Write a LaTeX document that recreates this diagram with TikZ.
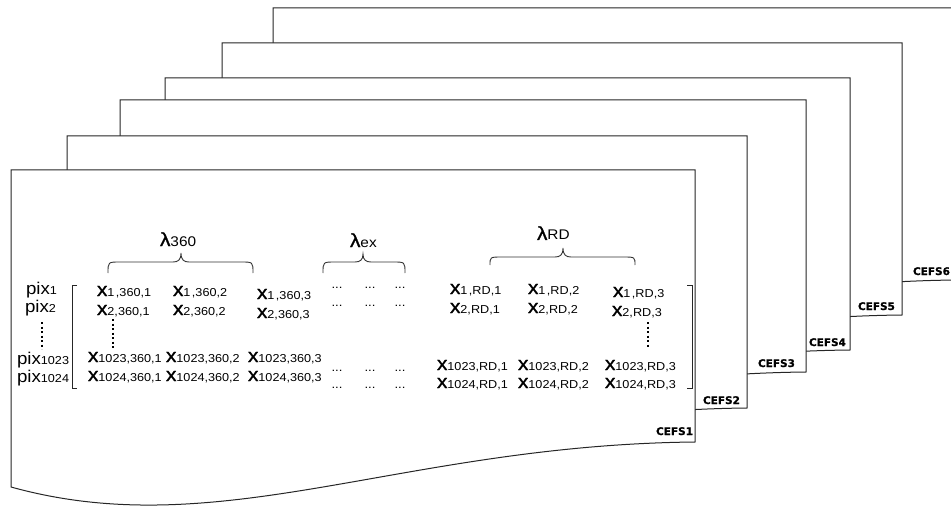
\documentclass[tikz,border=0pt]{standalone}
\usepackage{fontspec}
\setmainfont{Liberation Sans}[FakeStretch=1.1]
\newfontfamily\xfont{Liberation Sans}[FakeStretch=1.1, FakeBold=1.2]
\newfontfamily\cefsfont{DejaVu Sans}[FakeBold=0.8]
\newcommand\myx[1]{{\xfont\fontsize{19}{19}\selectfont x}\raisebox{-0.5pt}{\fontsize{11.5}{11.5}\selectfont #1}}
\newcommand\mypix[1]{{\fontsize{17}{17}\selectfont pix}\raisebox{-0.5pt}{\fontsize{11.5}{11.5}\selectfont #1}}
\newcommand\mylam[1]{{\xfont\fontsize{19}{19}\selectfont λ}{\fontsize{14}{14}\selectfont #1}}
\newcommand\mydots{{\fontsize{12}{12}\selectfont ...}}
\newcommand\mysheet[3]{%
  \filldraw[sheetline] (#1,#2) -- (#3,#2) -- (#3,{#2+272})
    .. controls ({#1+0.569*(#3-#1)},{#2+275}) and ({#1+0.3056*(#3-#1)},{#2+375}) ..
    (#1,{#2+317}) -- cycle;}
\newcommand\mybrace[6]{% a b c yb yh yt
  \draw[braceline] (#1,#4) .. controls (#1,#5) .. ({#1+12},#5) -- ({#3-8},#5)
    .. controls ({#3-3},#5) and (#3,{#5-2}) .. (#3,#6)
    .. controls (#3,{#5-2}) and ({#3+3},#5) .. ({#3+8},#5) -- ({#2-12},#5)
    .. controls (#2,#5) .. (#2,#4);}
\tikzset{
  sheetline/.style={draw=black!85, fill=white, line width=1pt},
  braceline/.style={draw=black!80, line width=0.9pt},
  bracketline/.style={draw=black!85, line width=0.9pt},
  vdots/.style={draw=black, line width=2pt, dash pattern=on 2pt off 2.5pt},
  txt/.style={inner sep=0pt, outer sep=0pt, text=black},
  cefs/.style={inner sep=0pt, outer sep=0pt, font=\cefsfont\bfseries\fontsize{10.5}{10.5}\selectfont},
}
\begin{document}
\begin{tikzpicture}[x=1pt,y=-1pt]
\useasboundingbox (0,0) rectangle (951,508);
\clip (0,0) rectangle (951,508);
% sheets, back to front
\mysheet{273}{8}{956}
\mysheet{222}{43}{902}
\mysheet{165}{78}{850}
\mysheet{120}{100}{806}
\mysheet{67}{136}{747}
\mysheet{11}{170}{695}
% labels
\node[cefs, anchor=base west] (c6) at (913,275) {CEFS6};
\node[cefs, anchor=base west] (c5) at (858,310) {CEFS5};
\node[cefs, anchor=base west] (c4) at (809,346) {CEFS4};
\node[cefs, anchor=base west] (c3) at (758,367) {CEFS3};
\node[cefs, anchor=base west] (c2) at (703,404) {CEFS2};
\node[cefs, anchor=base east] (c1) at (693,435) {CEFS1};
% lambda labels and braces
\node[txt, anchor=base west] (l360) at (160,246) {\mylam{360}};
\node[txt, anchor=base west] (lex) at (350,247) {\mylam{ex}};
\node[txt, anchor=base west] (lrd) at (537,240) {\mylam{RD}};
\mybrace{108}{253}{181}{273}{262}{253}
\mybrace{323}{405}{363}{273}{262}{254}
\mybrace{490}{635}{563}{265}{257}{248}
% pix labels
\node[txt, anchor=base west] (p1) at (26,294) {\mypix{1}};
\node[txt, anchor=base west] (p2) at (25,312) {\mypix{2}};
\node[txt, anchor=base west] (p1023) at (17,364) {\mypix{1023}};
\node[txt, anchor=base west] (p1024) at (17,382) {\mypix{1024}};
\draw[vdots] (42,322) -- (42,349);
% brackets
\draw[bracketline] (77,285) -- (72,285) -- (72,388) -- (77,388);
\draw[bracketline] (687,285) -- (692,285) -- (692,388) -- (687,388);
% 360 block
\node[txt, anchor=base west] (a11) at (97,296) {\myx{1\kern1.5pt,360,1}};
\node[txt, anchor=base west] (a12) at (173,296) {\myx{1\kern1.5pt,360,2}};
\node[txt, anchor=base west] (a13) at (257,299) {\myx{1\kern1.5pt,360,3}};
\node[txt, anchor=base west] (a21) at (97,315) {\myx{2,360,1}};
\node[txt, anchor=base west] (a22) at (173,315) {\myx{2,360,2}};
\node[txt, anchor=base west] (a23) at (257,318) {\myx{2,360,3}};
\node[txt, anchor=base west] (a31) at (88,362) {\myx{1023,360,1}};
\node[txt, anchor=base west] (a32) at (166,362) {\myx{1023,360,2}};
\node[txt, anchor=base west] (a33) at (248,362) {\myx{1023,360,3}};
\node[txt, anchor=base west] (a41) at (88,381) {\myx{1024,360,1}};
\node[txt, anchor=base west] (a42) at (166,381) {\myx{1024,360,2}};
\node[txt, anchor=base west] (a43) at (248,381) {\myx{1024,360,3}};
\draw[vdots] (113,319) -- (113,348);
% dots
\foreach \yy [count=\i] in {288,306,371,388}{
  \foreach \xx [count=\j] in {337,370,400}{
    \node[txt, anchor=base] (d\i\j) at (\xx,\yy) {\mydots};
  }
}
% RD block
\node[txt, anchor=base west] (b11) at (450,294) {\myx{1\kern1.5pt,RD,1}};
\node[txt, anchor=base west] (b12) at (528,294) {\myx{1\kern1.5pt,RD,2}};
\node[txt, anchor=base west] (b13) at (613,297) {\myx{1\kern1.5pt,RD,3}};
\node[txt, anchor=base west] (b21) at (450,313) {\myx{2,RD,1}};
\node[txt, anchor=base west] (b22) at (528,313) {\myx{2,RD,2}};
\node[txt, anchor=base west] (b23) at (612,316) {\myx{2,RD,3}};
\node[txt, anchor=base west] (b31) at (437,370) {\myx{1023,RD,1}};
\node[txt, anchor=base west] (b32) at (518,370) {\myx{1023,RD,2}};
\node[txt, anchor=base west] (b33) at (605,370) {\myx{1023,RD,3}};
\node[txt, anchor=base west] (b41) at (437,388) {\myx{1024,RD,1}};
\node[txt, anchor=base west] (b42) at (518,388) {\myx{1024,RD,2}};
\node[txt, anchor=base west] (b43) at (605,388) {\myx{1024,RD,3}};
\draw[vdots] (648,322) -- (648,348);
\end{tikzpicture}
\end{document}
